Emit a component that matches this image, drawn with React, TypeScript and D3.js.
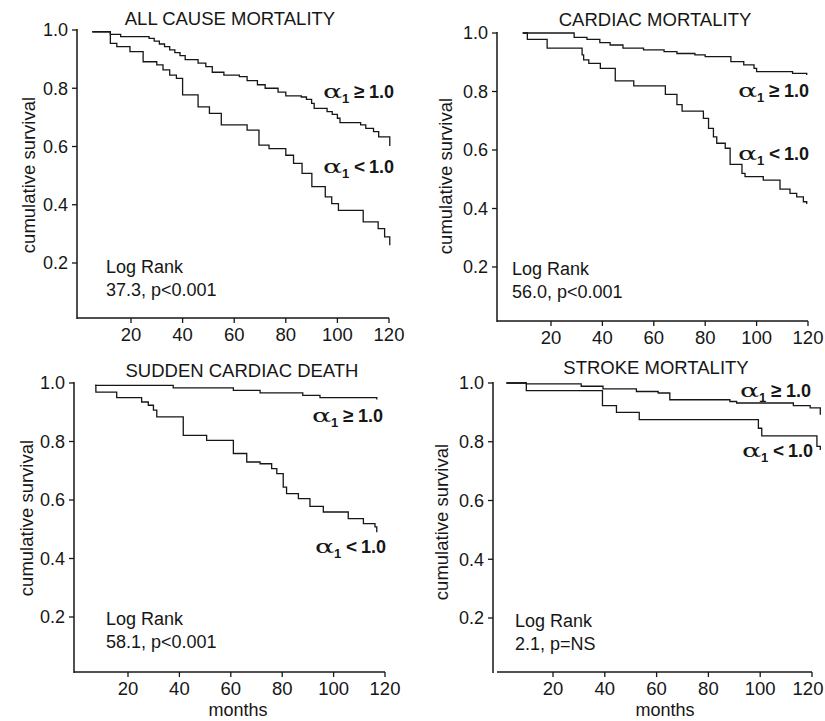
import React from 'react';
import * as d3 from 'd3';

type Pt = [number, number];

// month, cumulative survival (step drops)
const allCauseHigh: Pt[] = [
  [5, 0.994], [12, 0.985], [16, 0.977], [27, 0.971], [29, 0.962], [31, 0.952], [33, 0.943],
  [35, 0.932], [37, 0.922], [39, 0.912], [41, 0.898], [46, 0.886], [49, 0.874], [51.5, 0.855],
  [56, 0.845], [62, 0.84], [65, 0.826], [69, 0.812], [72, 0.8], [77, 0.787], [80, 0.774],
  [86, 0.77], [88, 0.762], [90, 0.748], [91, 0.731], [96, 0.72], [98, 0.71], [100, 0.697],
  [101, 0.682], [109, 0.674], [111, 0.662], [114, 0.651], [116, 0.633], [120.3, 0.602]
];
const allCauseLow: Pt[] = [
  [5, 0.994], [12, 0.954], [14.5, 0.943], [19.6, 0.926], [24.7, 0.891], [30, 0.88], [32.4, 0.863],
  [35, 0.845], [37.6, 0.834], [40, 0.777], [46, 0.736], [50.4, 0.714], [55, 0.674], [65, 0.656],
  [69.6, 0.605], [73.5, 0.593], [80, 0.57], [83, 0.542], [86.3, 0.508], [90.1, 0.462],
  [95.3, 0.427], [97.8, 0.404], [100.4, 0.381], [110, 0.341], [115.8, 0.318], [118.3, 0.29],
  [120.3, 0.261]
];
const cardiacHigh: Pt[] = [
  [9, 1.0], [29, 0.985], [34, 0.978], [39, 0.967], [43, 0.959], [48, 0.948], [56, 0.942],
  [64, 0.936], [69, 0.93], [76, 0.925], [80, 0.919], [90, 0.902], [95, 0.891], [99, 0.879],
  [100, 0.868], [114, 0.862], [119.5, 0.856]
];
const cardiacLow: Pt[] = [
  [9, 1.0], [10.8, 0.978], [18.5, 0.948], [32.1, 0.925], [32.7, 0.908], [34.7, 0.896],
  [39.2, 0.879], [45, 0.836], [52.2, 0.819], [64.5, 0.79], [69, 0.755], [71, 0.733],
  [79.3, 0.708], [81.3, 0.674], [83.2, 0.645], [84.5, 0.623], [87.8, 0.606], [89.7, 0.551],
  [94.3, 0.52], [95.5, 0.509], [102.6, 0.497], [109.1, 0.466], [113, 0.452], [115.6, 0.44],
  [118.2, 0.423], [119.5, 0.415]
];
const suddenHigh: Pt[] = [
  [7.2, 0.992], [37.6, 0.983], [61, 0.975], [71.4, 0.966], [88, 0.958], [94.7, 0.95],
  [116.8, 0.944]
];
const suddenLow: Pt[] = [
  [7.2, 0.992], [7.5, 0.969], [15.6, 0.95], [25.3, 0.935], [27.9, 0.924], [29.9, 0.907],
  [31.2, 0.884], [41.5, 0.821], [50.6, 0.804], [61, 0.759], [66.2, 0.73], [71.4, 0.724],
  [75.9, 0.707], [77.9, 0.69], [80.4, 0.644], [81.7, 0.622], [86.3, 0.605], [90.8, 0.578],
  [96, 0.559], [105.7, 0.536], [111.6, 0.519], [116.1, 0.508], [116.8, 0.49]
];
const strokeHigh: Pt[] = [
  [2, 1.0], [9.7, 0.997], [30.9, 0.989], [39.3, 0.98], [52.2, 0.971], [60.6, 0.966],
  [65.1, 0.943], [88.3, 0.937], [90.9, 0.932], [112.8, 0.923], [119.3, 0.915], [123.2, 0.892]
];
const strokeLow: Pt[] = [
  [2, 1.0], [9.7, 0.974], [39.1, 0.923], [44.5, 0.9], [53.3, 0.875], [99.3, 0.846],
  [100.6, 0.82], [121.9, 0.784], [123.2, 0.772]
];

const xTicks = [20, 40, 60, 80, 100, 120];
const yTicks = [0.2, 0.4, 0.6, 0.8, 1.0];
const titles = ['ALL CAUSE MORTALITY', 'CARDIAC MORTALITY', 'SUDDEN CARDIAC DEATH', 'STROKE MORTALITY'];
const logRankStats = ['37.3, p<0.001', '56.0, p<0.001', '58.1, p<0.001', '2.1, p=NS'];

const FONT = 'Arial, "Liberation Sans", sans-serif';
const INK = '#161616';

// layout of each panel (pixels)
const panels = [
  {
    high: allCauseHigh, low: allCauseLow, axisX: 77, axisY: 318, x20: 131, x120: 389, y1: 30, y02: 263,
    xStart: 77, xEnd: 389, titleX: 230, titleY: 25, ylabX: 35, ylabY: 175, lrX: 106, lrY: 273,
    hiLab: [323, 98], loLab: [323, 173], months: false
  },
  {
    high: cardiacHigh, low: cardiacLow, axisX: 497, axisY: 321, x20: 551, x120: 808, y1: 33, y02: 267,
    xStart: 497, xEnd: 808, titleX: 655, titleY: 26, ylabX: 452, ylabY: 176, lrX: 512, lrY: 275,
    hiLab: [738, 97], loLab: [738, 160], months: false
  },
  {
    high: suddenHigh, low: suddenLow, axisX: 74, axisY: 672, x20: 128, x120: 385, y1: 383, y02: 617,
    xStart: 74, xEnd: 385, titleX: 242, titleY: 377, ylabX: 33, ylabY: 518, lrX: 106, lrY: 625,
    hiLab: [312, 422], loLab: [315, 553], months: true, monthsX: 238, monthsY: 716
  },
  {
    high: strokeHigh, low: strokeLow, axisX: 493, axisY: 672, x20: 553, x120: 812, y1: 383, y02: 618,
    xStart: 497, xEnd: 812, titleX: 656, titleY: 374, ylabX: 448, ylabY: 522, lrX: 515, lrY: 627,
    hiLab: [740, 397], loLab: [742, 457], months: true, monthsX: 665, monthsY: 716
  }
];

// α₁ ≥ 1.0 style group label
function AlphaLabel({ x, y, op }: { x: number; y: number; op: string }) {
  return (
    <g fill={INK}>
      <text transform={`translate(${x},${y}) scale(1.5,1)`} fontFamily='"DejaVu Serif", "Liberation Serif", serif'
        fontSize={19}>α</text>
      <text x={x + 19} y={y + 5} fontFamily={FONT} fontWeight="bold" fontSize={13}>1</text>
      <text x={x + 31} y={y} fontFamily={FONT} fontWeight="bold" fontSize={19}>{op}</text>
      <text x={x + 46} y={y} fontFamily={FONT} fontWeight="bold" fontSize={18}>1.0</text>
    </g>
  );
}

function Panel({ p, i }: { p: any; i: number }) {
  const x = d3.scaleLinear().domain([20, 120]).range([p.x20, p.x120]);
  const y = d3.scaleLinear().domain([0.2, 1]).range([p.y02, p.y1]);
  const line = d3.line<Pt>().x(d => x(d[0])).y(d => y(d[1])).curve(d3.curveStepAfter);

  return (
    <g>
      <text x={p.titleX} y={p.titleY} textAnchor="middle" fontFamily={FONT} fontSize={18.5} fill={INK}>
        {titles[i]}
      </text>

      {/* axes */}
      <line x1={p.axisX} x2={p.axisX} y1={y(1) - 1} y2={p.axisY + 1} stroke={INK} strokeWidth={1.5} />
      <line x1={p.xStart} x2={p.xEnd} y1={p.axisY} y2={p.axisY} stroke={INK} strokeWidth={1.5} />
      {yTicks.map(t => (
        <g key={'y' + t}>
          <line x1={p.axisX - 5} x2={p.axisX} y1={y(t)} y2={y(t)} stroke={INK} strokeWidth={1.3} />
          <text x={p.axisX - 9} y={y(t)} dy="0.35em" textAnchor="end" fontFamily={FONT} fontSize={18} fill={INK}>
            {t.toFixed(1)}
          </text>
        </g>
      ))}
      {xTicks.map(t => (
        <g key={'x' + t}>
          <line x1={x(t)} x2={x(t)} y1={p.axisY} y2={p.axisY + 5} stroke={INK} strokeWidth={1.3} />
          <text x={Math.min(x(t), 808)} y={p.axisY + 17} dy="0.35em" textAnchor="middle" fontFamily={FONT}
            fontSize={18.5} fill={INK}>
            {t}
          </text>
        </g>
      ))}
      <text transform={`translate(${p.ylabX},${p.ylabY}) rotate(-90)`} textAnchor="middle"
        fontFamily={FONT} fontSize={18.5} fill={INK}>
        cumulative survival
      </text>
      {p.months && (
        <text x={p.monthsX} y={p.monthsY} textAnchor="middle" fontFamily={FONT} fontSize={18} fill={INK}>
          months
        </text>
      )}

      {/* survival curves */}
      <path d={line(p.high) || ''} fill="none" stroke={INK} strokeWidth={1.3} />
      <path d={line(p.low) || ''} fill="none" stroke={INK} strokeWidth={1.3} />

      <AlphaLabel x={p.hiLab[0]} y={p.hiLab[1]} op="≥" />
      <AlphaLabel x={p.loLab[0]} y={p.loLab[1]} op="<" />

      <text x={p.lrX} y={p.lrY} fontFamily={FONT} fontSize={18} fill={INK}>Log Rank</text>
      <text x={p.lrX} y={p.lrY + 23} fontFamily={FONT} fontSize={18} fill={INK}>{logRankStats[i]}</text>
    </g>
  );
}

export default function App() {
  return (
    <svg width={825} height={721} viewBox="0 0 825 721"
      style={{ position: 'absolute', left: 0, top: 0, background: '#fff', display: 'block' }}>
      <rect width={825} height={721} fill="#fff" />
      {panels.map((p, i) => <Panel key={i} p={p} i={i} />)}
    </svg>
  );
}
